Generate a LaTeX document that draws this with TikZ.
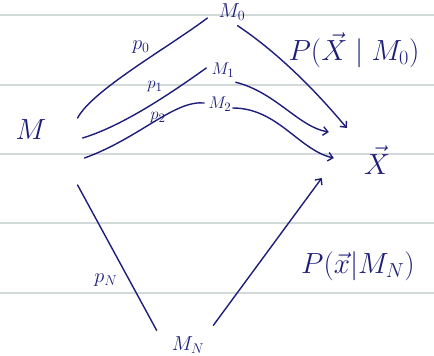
\documentclass[tikz,border=0pt]{standalone}
\usepackage{amsmath,amssymb}
\usepackage{tikz}
\usetikzlibrary{arrows.meta,positioning}
\definecolor{Ink}{HTML}{1E1E7A}
\definecolor{Rule}{HTML}{D2DAD9}
\tikzset{
  ink/.style={draw=Ink,line width=1.2pt,line cap=round},
  flow/.style={ink,-{Straight Barb[length=1.4mm,width=2.6mm]}},
  word/.style={text=Ink,inner sep=0pt},
  big/.style={word,font=\fontsize{42}{42}\selectfont},
  mid/.style={word,font=\fontsize{26}{26}\selectfont},
  small/.style={word,font=\fontsize{18}{18}\selectfont},
  tiny/.style={word,font=\fontsize{15}{15}\selectfont},
  ruling/.style={draw=Rule,line width=1.3pt}
}
\begin{document}
\begin{tikzpicture}[x=0.03cm,y=-0.03cm]
  \useasboundingbox (0,0) rectangle (434,356);
  % ruled paper
  \foreach \ry in {15,85,154,223,293}
    \draw[ruling] (0,\ry) -- (434,\ry);
  % states
  \node[big] (M) at (31,130) {$M$};
  \node[small] (M0) at (232,12) {$M_0$};
  \node[tiny] (M1) at (223,70) {$M_1$};
  \node[tiny] (M2) at (220,104) {$M_2$};
  \node[small] (MN) at (188,345) {$M_N$};
  \node[mid] (X) at (377,160) {$\vec{X}$};
  % likelihoods
  \node[mid] (PX0) at (354,50) {$P(\vec{X} \mid M_0)$};
  \node[mid] (PXN) at (358,266) {$P(\vec{x}|M_N)$};
  % priors
  \node[small] (p0) at (141,47) {$p_0$};
  \node[tiny] (p1) at (155,87) {$p_1$};
  \node[tiny] (p2) at (158,118) {$p_2$};
  \node[small] (pN) at (106,280) {$p_N$};
  % M to models
  \draw[ink] ([shift={(31,-12)}]M.east) .. controls +(15,-28) and +(-40,30) .. ([shift={(-11,6)}]M0.west);
  \draw[ink] ([shift={(36,8)}]M.east) .. controls +(40,-12) and +(-35,25) .. ([shift={(-5,-2)}]M1.west);
  \draw[ink] ([shift={(38,28)}]M.east) .. controls +(55,-20) and +(-30,-3) .. ([shift={(-4,-1)}]M2.west);
  \draw[ink] ([shift={(31,55)}]M.east) -- ([shift={(-15,-6)}]MN.north west);
  % models to data
  \draw[flow] ([shift={(-8,5)}]M0.south east) .. controls +(45,30) and +(-25,-30) .. ([shift={(-17,-32)}]X.west);
  \draw[flow] ([shift={(1,5)}]M1.south east) .. controls +(40,10) and +(-30,-5) .. ([shift={(-35,-28)}]X.west);
  \draw[flow] ([shift={(1,4)}]M2.east) .. controls +(45,0) and +(-35,-8) .. ([shift={(-30,-2)}]X.west);
  \draw[flow] ([shift={(9,-11)}]MN.north east) -- ([shift={(-42,18)}]X.west);
\end{tikzpicture}
\end{document}
